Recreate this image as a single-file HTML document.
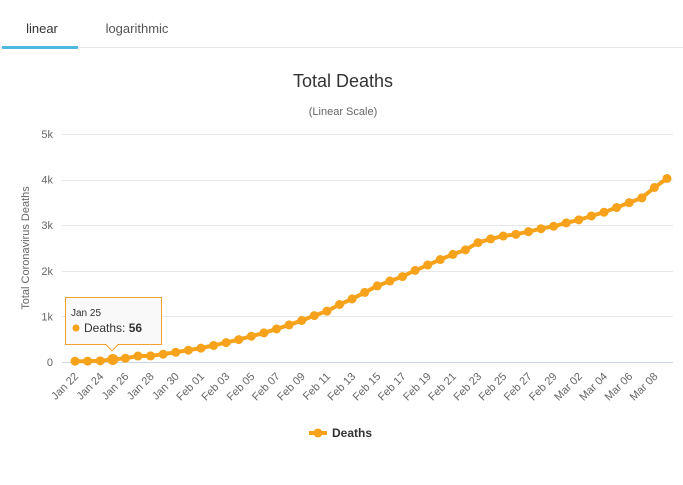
<!DOCTYPE html>
<html><head><meta charset="utf-8"><style>
body{margin:0;background:#fff;font-family:"Liberation Sans",sans-serif;}
svg text{font-family:"Liberation Sans",sans-serif;}
</style></head><body>
<svg width="683" height="480" xmlns="http://www.w3.org/2000/svg">
<g>
<text x="42" y="33" font-size="13" fill="#333" text-anchor="middle">linear</text>
<text x="137" y="33" font-size="13" fill="#555" text-anchor="middle">logarithmic</text>
<line x1="0" y1="47.5" x2="683" y2="47.5" stroke="#e6e6e6"/>
<rect x="2" y="46" width="76" height="3" fill="#4db8e0"/>
</g>
<text x="343" y="87" font-size="18" fill="#333" text-anchor="middle">Total Deaths</text>
<text x="343" y="115" font-size="11" fill="#666" text-anchor="middle">(Linear Scale)</text>
<text transform="translate(29,248) rotate(-90)" font-size="11" fill="#666" text-anchor="middle">Total Coronavirus Deaths</text>
<g id="grid"></g><g id="xlabels"></g><g id="series"></g>
<g>
<path d="M65.5,297.5 H161.5 V344.5 H118 L112,351 L106,344.5 H65.5 Z" fill="#f9f9f9" fill-opacity="0.92" stroke="#f0a030"/>
<text x="71" y="316" font-size="10" fill="#333">Jan 25</text>
<circle cx="76" cy="328" r="3.5" fill="#f7a21b"/>
<text x="84" y="332" font-size="12" fill="#333">Deaths: <tspan font-weight="bold">56</tspan></text>
</g>
<g>
<line x1="309" y1="433" x2="327" y2="433" stroke="#f7a21b" stroke-width="4"/>
<circle cx="318" cy="433" r="4.5" fill="#f7a21b"/>
<text x="332" y="437" font-size="12" font-weight="bold" fill="#333">Deaths</text>
</g>
</svg>
<script>
const yTicks=[0,1000,2000,3000,4000,5000];
const yTickLabels=["0","1k","2k","3k","4k","5k"];
const deaths=[17,18,26,56,82,131,133,171,213,259,304,362,426,492,565,638,724,813,910,1018,1115,1261,1383,1526,1669,1775,1873,2009,2126,2247,2360,2460,2618,2699,2763,2800,2858,2923,2977,3050,3117,3202,3285,3387,3494,3599,3827,4025];
const months=["Jan","Feb","Mar"];const mdays=[31,29,31];
const categories=[];
(function(){let m=0,d=22;for(let i=0;i<deaths.length;i++){categories.push(months[m]+" "+String(d).padStart(2,"0"));d++;if(d>mdays[m]){d=1;m++;}}})();
const NS="http://www.w3.org/2000/svg";
const x0=75,x1=667,yBase=362,yTop=134;
function xs(i){return x0+i*(x1-x0)/(deaths.length-1);}
function ys(v){return yBase-(v/5000)*(yBase-yTop);}
function mk(t,a,p){const e=document.createElementNS(NS,t);for(const k in a)e.setAttribute(k,a[k]);p.appendChild(e);return e;}
const grid=document.getElementById("grid");
yTicks.forEach((v,i)=>{
 const l=mk("line",{x1:62,x2:673,y1:Math.round(ys(v))+0.5,y2:Math.round(ys(v))+0.5,stroke:i===0?"#ccd6eb":"#e6e6e6"},grid);
 
 
 const t=mk("text",{x:53,y:ys(v)+4,"font-size":11,fill:"#666","text-anchor":"end"},grid);
 t.textContent=yTickLabels[i];
 
 
});
const xl=document.getElementById("xlabels");
categories.forEach((c,i)=>{
 if(i%2)return;
 const t=mk("text",{transform:`translate(${xs(i)+4},${377}) rotate(-45)`,"font-size":11,fill:"#666","text-anchor":"end"},xl);
 t.textContent=c;
 
 
});
const s=document.getElementById("series");
const path=mk("path",{d:deaths.map((v,i)=>(i?"L":"M")+xs(i)+","+ys(v)).join(""),fill:"none",stroke:"#f7a21b","stroke-width":4},s);


deaths.forEach((v,i)=>{
 const c=mk("circle",{cx:xs(i),cy:ys(v),r:i===3?5.5:4.5,fill:"#f7a21b"},s);
 
 
});
</script>
</body></html>
